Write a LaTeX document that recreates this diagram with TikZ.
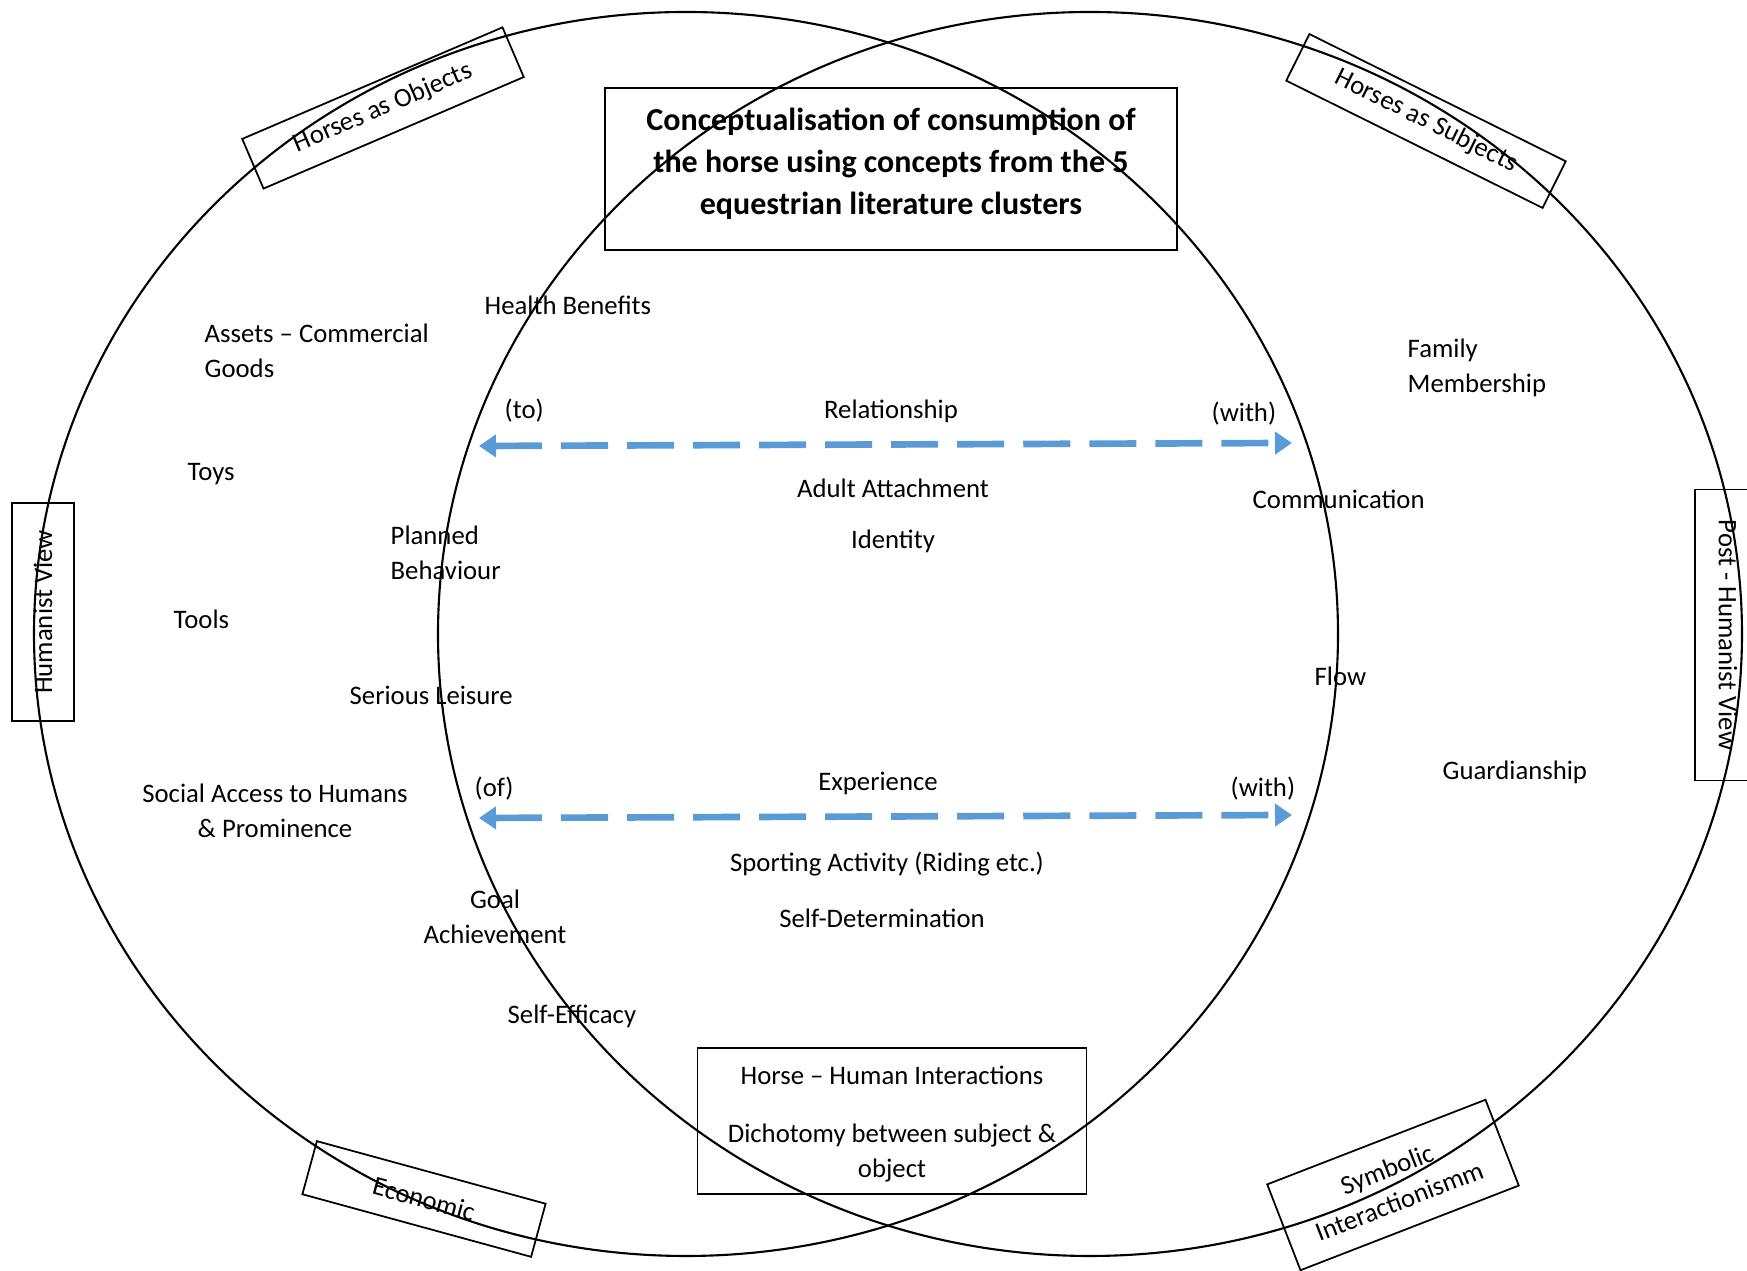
\documentclass[tikz,border=0pt]{standalone}
\usepackage{fontspec}
\setmainfont{Carlito}
\usetikzlibrary{arrows.meta}
\definecolor{cline}{HTML}{5B9BD5}
\tikzset{
  every picture/.style={font=\fontsize{7.6}{9.8}\selectfont},
  ring/.style={line width=0.6pt},
  frame/.style={draw, line width=0.5pt, inner sep=0pt, align=center},
  lbl/.style={inner sep=0pt, align=left, anchor=west},
  clbl/.style={inner sep=0pt, align=center},
  link/.style={{Triangle[length=1.7mm, width=2.2mm]}-{Triangle[length=1.7mm, width=2.2mm]}, draw=cline, line width=1.9pt, dash pattern=on 4.7mm off 1.9mm},
}
\begin{document}
\begin{tikzpicture}[x=0.01cm, y=-0.01cm]
  \useasboundingbox (0,0) rectangle (1747,1271);
  % the two views
  \draw[ring] (686,634) ellipse [x radius=652, y radius=622];
  \draw[ring] (1090,634) ellipse [x radius=652, y radius=622];
  % cluster labels
  \node[frame, minimum width=2.83cm, minimum height=0.54cm, rotate=23.2] (objects) at (383,108) {Horses as Objects};
  \node[frame, minimum width=2.86cm, minimum height=0.52cm, rotate=-26.4] (subjects) at (1426,121) {Horses as Subjects};
  \node[frame, minimum width=2.18cm, minimum height=0.62cm, rotate=90] (humanist) at (43,612) {Humanist View};
  \node[frame, minimum width=2.91cm, minimum height=0.66cm, rotate=-90] (posthumanist) at (1728,635) {Post - Humanist View};
  \node[frame, minimum width=2.37cm, minimum height=0.55cm, rotate=-15.3] (economic) at (424,1199) {Economic};
  \node[frame, minimum width=2.34cm, minimum height=0.92cm, rotate=21.2] (symbolic) at (1393,1185) {Symbolic\\Interactionismm};
  % title and interactions
  \node[frame, minimum width=5.72cm, minimum height=1.62cm] (titlebox) at (891,169) {};
  \node[clbl, font=\fontsize{9.1}{11.9}\selectfont\bfseries] (title) at (891,164) {Conceptualisation of consumption of\\the horse using concepts from the 5\\equestrian literature clusters};
  \node[frame, minimum width=3.89cm, minimum height=1.46cm] (interact) at (892,1121) {};
  \node[clbl] (interacttext) at (892,1124) {Horse – Human Interactions\\[2.4mm]Dichotomy between subject \&\\object};
  % concepts
  \node[lbl] (health) at (484,305) {Health Benefits};
  \node[lbl] (assets) at (204,351) {Assets – Commercial\\Goods};
  \node[lbl] (family) at (1407,368) {Family\\Membership};
  \node[lbl] (to) at (504,411) {(to)};
  \node[clbl] (relation) at (891,411) {Relationship};
  \node[lbl] (with1) at (1211,414) {(with)};
  \node[clbl] (attach) at (893,488) {Adult Attachment};
  \node[lbl] (comm) at (1252,499) {Communication};
  \node[lbl] (toys) at (187,474) {Toys};
  \node[lbl] (planned) at (390,553) {Planned\\Behaviour};
  \node[clbl] (identity) at (893,541) {Identity};
  \node[lbl] (tools) at (173,619) {Tools};
  \node[lbl] (flow) at (1314,676) {Flow};
  \node[lbl] (leisure) at (349,695) {Serious Leisure};
  \node[lbl] (guard) at (1442,772) {Guardianship};
  \node[clbl] (experience) at (878,783) {Experience};
  \node[lbl] (of) at (474,789) {(of)};
  \node[lbl] (with2) at (1230,789) {(with)};
  \node[clbl] (social) at (275,811) {Social Access to Humans\\\& Prominence};
  \node[clbl] (sport) at (887,864) {Sporting Activity (Riding etc.)};
  \node[clbl] (goal) at (495,917) {Goal\\Achievement};
  \node[clbl] (selfdet) at (882,918) {Self-Determination};
  \node[lbl] (efficacy) at (507,1016) {Self-Efficacy};
  % relationship and experience arrows
  \coordinate (relL) at (479,446);
  \coordinate (relR) at (1292,443);
  \draw[link] (relL) -- (relR);
  \coordinate (expL) at (479,818);
  \coordinate (expR) at (1292,815);
  \draw[link] (expL) -- (expR);
\end{tikzpicture}
\end{document}
